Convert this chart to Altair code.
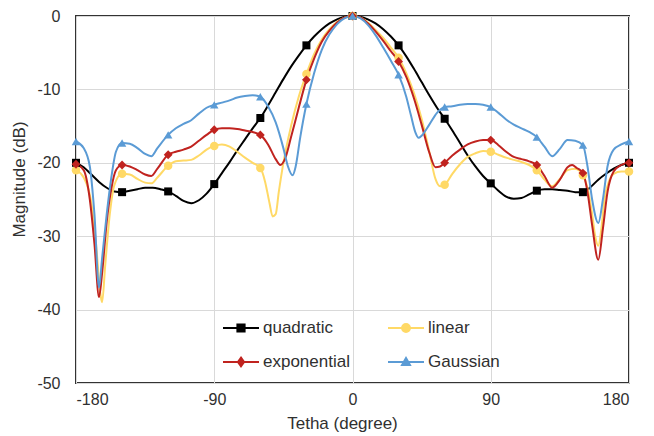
import altair as alt
import pandas as pd

FONT = "Liberation Sans"
TXT = "#303030"

series_names = ["quadratic", "linear", "exponential", "Gaussian"]
series_colors = ["#000000", "#FFD966", "#C0231F", "#5B9BD5"]

quad_angles = [-180, -175, -170, -165, -160, -155, -150, -145, -140, -135, -130, -125, -120,
               -115, -110, -105, -100, -95, -90, -85, -80, -75, -70, -65, -60, -55, -50, -45,
               -40, -35, -30, -25, -20, -15, -10, -5, 0, 5, 10, 15, 20, 25, 30, 35, 40, 45, 50,
               55, 60, 65, 70, 75, 80, 85, 90, 95, 100, 105, 110, 115, 120, 125, 130, 135, 140,
               145, 150, 155, 160, 165, 170, 175, 180]
quad_values = [-20.0, -20.6, -21.6, -22.6, -23.4, -23.9, -24.0, -23.8, -23.6, -23.4, -23.4, -23.6,
               -23.9, -24.5, -25.2, -25.5, -25.1, -24.2, -22.9, -21.4, -19.9, -18.3, -16.8, -15.3,
               -13.9, -12.2, -10.4, -8.6, -6.9, -5.4, -4.0, -2.8, -1.8, -1.0, -0.45, -0.1, 0.0,
               -0.1, -0.45, -1.0, -1.8, -2.8, -4.0, -5.5, -7.2, -9.0, -10.8, -12.5, -14.0, -15.6,
               -17.3, -19.0, -20.5, -21.8, -22.8, -23.8, -24.6, -24.9, -24.8, -24.3, -23.8, -23.6,
               -23.6, -23.7, -23.8, -24.0, -24.0, -23.3, -22.3, -21.5, -20.8, -20.3, -20.0]

lin_angles = [-180, -175, -170, -167, -164, -163, -161, -158, -155, -150, -145, -140, -135, -131,
              -127, -120, -115, -110, -105, -100, -95, -90, -85, -80, -75, -70, -65, -60, -57,
              -54, -52, -50, -48, -45, -40, -35, -30, -25, -20, -15, -10, -5, 0, 5, 10, 15, 20,
              25, 30, 35, 40, 45, 50, 54, 57, 60, 65, 70, 75, 80, 85, 90, 95, 100, 105, 110, 115,
              120, 125, 130, 135, 140, 145, 150, 153, 156, 158, 160, 162, 164, 167, 170, 175, 180]
lin_values = [-21.0, -22.0, -25.5, -31.0, -38.0, -39.0, -34.0, -27.0, -23.0, -21.5, -21.6, -22.2,
              -22.7, -22.8, -22.0, -20.4, -19.8, -19.7, -19.6, -19.0, -18.2, -17.7, -17.5, -17.8,
              -18.5, -19.3, -20.0, -20.7, -22.5, -25.5, -27.3, -27.0, -24.0, -20.0, -15.0, -11.0,
              -7.9, -5.2, -3.2, -1.8, -0.8, -0.2, 0.0, -0.2, -0.9, -1.9, -3.0, -4.3, -5.7, -7.8,
              -10.5, -14.0, -18.5, -22.2, -23.2, -23.0, -21.5, -20.2, -19.2, -18.7, -18.4, -18.5,
              -18.9, -19.3, -19.6, -19.9, -20.3, -21.0, -22.3, -23.2, -22.2, -21.0, -20.8, -21.7,
              -23.5, -27.0, -30.0, -31.3, -29.0, -25.0, -22.5, -21.5, -21.2, -21.2]

exp_angles = [-180, -175, -171, -168, -165, -163, -160, -157, -154, -150, -145, -140, -135, -131,
              -127, -120, -115, -110, -105, -100, -95, -90, -85, -80, -75, -70, -65, -60, -55,
              -50, -47, -44, -40, -35, -30, -25, -20, -15, -10, -5, 0, 5, 10, 15, 20, 25, 30, 35,
              40, 45, 50, 54, 57, 60, 65, 70, 75, 80, 85, 90, 95, 100, 105, 110, 115, 120, 125,
              130, 135, 140, 143, 146, 150, 153, 156, 160, 163, 166, 170, 175, 180]
exp_values = [-20.2, -21.0, -25.0, -31.0, -38.3, -35.0, -28.0, -23.5, -21.0, -20.3, -20.5, -21.0,
              -21.6, -21.8, -20.8, -18.9, -18.5, -18.2, -17.8, -17.0, -16.2, -15.5, -15.3, -15.3,
              -15.4, -15.6, -15.8, -16.2, -17.5, -19.5, -20.3, -19.5, -16.5, -12.5, -8.7, -5.8,
              -3.5, -2.0, -0.9, -0.2, 0.0, -0.2, -1.0, -2.1, -3.4, -4.8, -6.2, -8.3, -11.2, -14.8,
              -18.6, -20.6, -20.5, -20.0, -19.0, -18.2, -17.5, -17.1, -16.9, -16.9, -17.6, -18.5,
              -19.2, -19.5, -19.8, -20.3, -21.8, -23.4, -22.3, -20.6, -20.3, -20.7, -21.4, -24.0,
              -28.5, -33.2, -29.0, -24.0, -21.2, -20.3, -20.0]

gau_angles = [-180, -175, -171, -168, -165, -163, -160, -157, -154, -150, -145, -140, -135, -131,
              -127, -120, -115, -110, -105, -100, -95, -90, -85, -80, -75, -70, -65, -60, -55,
              -50, -45, -42, -39, -37, -34, -30, -25, -20, -15, -10, -5, 0, 5, 10, 15, 20, 25, 30,
              35, 38, 41, 43, 45, 50, 55, 60, 65, 70, 75, 80, 85, 90, 95, 100, 105, 110, 115, 120,
              125, 130, 135, 140, 145, 150, 153, 156, 160, 163, 166, 170, 175, 180]
gau_values = [-17.1, -18.0, -20.5, -27.0, -37.0, -33.0, -27.0, -22.0, -18.5, -17.3, -17.4, -18.0,
              -18.8, -19.1, -18.0, -16.2, -15.3, -14.7, -14.2, -13.3, -12.5, -12.1, -11.8, -11.5,
              -11.1, -10.9, -10.8, -11.0, -12.3, -14.5, -18.0, -20.5, -21.7, -20.5, -16.5, -12.0,
              -7.8, -4.6, -2.5, -1.1, -0.3, 0.0, -0.3, -1.2, -2.6, -4.3, -6.1, -8.0, -11.0, -13.5,
              -15.9, -16.6, -16.3, -14.8, -13.2, -12.4, -12.3, -12.1, -12.0, -12.0, -12.1, -12.4,
              -13.2, -14.1, -14.8, -15.3, -15.8, -16.5, -17.8, -19.1, -18.1, -16.9, -17.0, -17.6,
              -20.5, -25.0, -28.2, -25.0, -20.5, -18.2, -17.5, -17.1]

x_ticks = [-180, -90, 0, 90, 180]
y_ticks = [-50, -40, -30, -20, -10, 0]

frames = []
for name, ang, val in [("quadratic", quad_angles, quad_values),
                       ("linear", lin_angles, lin_values),
                       ("exponential", exp_angles, exp_values),
                       ("Gaussian", gau_angles, gau_values)]:
    frames.append(pd.DataFrame({"series": name, "angle": ang, "value": val}))
df = pd.concat(frames, ignore_index=True)

color_scale = alt.Scale(domain=series_names, range=series_colors)

x_enc = alt.X("angle:Q", scale=alt.Scale(domain=[-180, 180], nice=False, zero=False),
              axis=alt.Axis(values=x_ticks, title="Tetha (degree)", labelPadding=8,
                            titlePadding=8, titleX=266, labelExpr="datum.value + ''"))
y_enc = alt.Y("value:Q", scale=alt.Scale(domain=[-50, 0], nice=False, zero=False),
              axis=alt.Axis(values=y_ticks, title="Magnitude (dB)", labelPadding=16,
                            titlePadding=8, titleY=163, labelExpr="datum.value + ''"))

legend_paths = [
    "M-1,0H1M-0.2,-0.2H0.2V0.2H-0.2Z",
    "M-1,0H1M-0.22,0A0.22,0.22,0,1,0,0.22,0A0.22,0.22,0,1,0,-0.22,0Z",
    "M-1,0H1M0,-0.24L0.17,0L0,0.24L-0.17,0Z",
    "M-1,0H1M0,-0.22L0.22,0.17L-0.22,0.17Z",
]

leg = alt.Legend(orient="none", legendX=146, legendY=293, title=None, columns=2,
                 direction="horizontal",
                 columnPadding=34, rowPadding=7, symbolSize=1296, symbolStrokeWidth=2,
                 symbolOpacity=1, labelFont=FONT, labelFontSize=17, labelColor=TXT,
                 labelOffset=3, padding=0)

lines = alt.Chart(df).mark_line(interpolate="monotone", strokeWidth=2).encode(
    x=x_enc, y=y_enc,
    color=alt.Color("series:N", scale=color_scale, legend=leg, sort=series_names),
    detail="series:N",
)

marker_shapes = {"quadratic": ("square", 64), "linear": ("circle", 72),
                 "exponential": ("diamond", 78), "Gaussian": ("triangle-up", 72)}
marker_layers = []
for name, col in zip(series_names, series_colors):
    shp, sz = marker_shapes[name]
    marker_layers.append(
        alt.Chart(df)
        .transform_filter(f"datum.series == '{name}' && datum.angle % 30 == 0")
        .mark_point(shape=shp, filled=True, size=sz, opacity=1, color=col)
        .encode(x=x_enc, y=y_enc)
    )

legend_layer = alt.Chart(df).transform_filter("datum.angle > 999").mark_point(
    filled=False, strokeWidth=2).encode(
    x=x_enc, y=y_enc,
    color=alt.Color("series:N", scale=color_scale, legend=leg, sort=series_names),
    fill=alt.Fill("series:N", scale=alt.Scale(domain=series_names, range=series_colors),
                  legend=leg, sort=series_names),
    shape=alt.Shape("series:N", scale=alt.Scale(domain=series_names, range=legend_paths),
                    legend=leg, sort=series_names),
)

chart = alt.layer(lines, *marker_layers, legend_layer).properties(
    width=553, height=367,
    autosize=alt.AutoSizeParams(type="none"),
    padding={"left": 76, "top": 16, "right": 25, "bottom": 53},
    background="white",
).configure_view(
    stroke="#333333", strokeWidth=2
).configure_axis(
    domain=False, ticks=False, grid=True, gridColor="#d9d9d9", gridWidth=1,
    labelFont=FONT, labelFontSize=16, labelColor=TXT,
    titleFont=FONT, titleFontSize=17, titleFontWeight="normal", titleColor=TXT,
)

chart.save("out.html", embed_options={"renderer": "svg", "actions": False})
